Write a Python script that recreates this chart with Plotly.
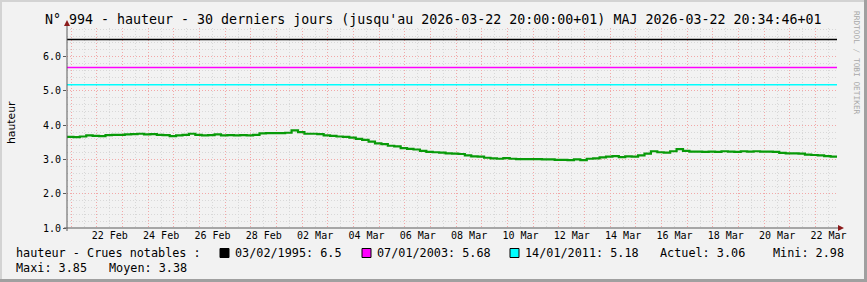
import plotly.graph_objects as go
import pandas as pd

# ---------------- data ----------------
START = "2026-02-20 20:00"
END = "2026-03-22 20:00"

# water height (m), one reading every 6 hours from START to END
hauteur = [
    3.66, 3.65, 3.67, 3.70, 3.69, 3.68, 3.71, 3.72, 3.72, 3.73,
    3.74, 3.75, 3.73, 3.74, 3.72, 3.71, 3.68, 3.70, 3.72, 3.75,
    3.72, 3.70, 3.71, 3.73, 3.70, 3.71, 3.70, 3.71, 3.70, 3.72,
    3.76, 3.77, 3.77, 3.77, 3.78, 3.85, 3.80, 3.75, 3.75, 3.74,
    3.70, 3.69, 3.67, 3.66, 3.64, 3.60, 3.57, 3.52, 3.47, 3.45,
    3.40, 3.38, 3.33, 3.31, 3.29, 3.25, 3.22, 3.21, 3.20, 3.18,
    3.17, 3.16, 3.12, 3.09, 3.08, 3.05, 3.03, 3.02, 3.04, 3.02,
    3.01, 3.01, 3.01, 3.01, 3.00, 3.00, 2.99, 2.99, 2.98, 3.00,
    2.98, 3.02, 3.03, 3.06, 3.08, 3.10, 3.07, 3.09, 3.08, 3.12,
    3.17, 3.24, 3.21, 3.20, 3.24, 3.30, 3.25, 3.23, 3.23, 3.22,
    3.23, 3.22, 3.24, 3.23, 3.22, 3.24, 3.23, 3.24, 3.23, 3.23,
    3.22, 3.19, 3.18, 3.18, 3.17, 3.14, 3.13, 3.12, 3.10, 3.08,
    3.06,
]
times = pd.date_range(START, END, freq="6h")

crue_dates = ["03/02/1995", "07/01/2003", "14/01/2011"]
crue_values = [6.5, 5.68, 5.18]
crue_colors = ["#000000", "#FF00FF", "#00FFFF"]

actuel, mini, maxi, moyen = 3.06, 2.98, 3.85, 3.38

y_ticks = [1, 2, 3, 4, 5, 6]
y_ticktext = [f"{v:.1f}" for v in y_ticks]
x_label_times = pd.date_range("2026-02-22 12:00", "2026-03-22 12:00", freq="2D")

title = ("N° 994 - hauteur - 30 derniers jours (jusqu'au 2026-03-22 20:00:00+01) "
         "MAJ 2026-03-22 20:34:46+01")

# ---------------- layout geometry ----------------
W, H = 867, 282
L, R, T, B = 67, 30, 28, 54
PW, PH = W - L - R, H - T - B
Y0, Y1 = 1.0, 6.836


def px(x):
    return (x - L) / PW


def py(y):
    return (H - B - y) / PH


MONO = "DejaVu Sans Mono"
GRID = "#D8D8D8"
MGRID = "#F2A8A8"
AXIS = "#5A5A5A"
ARROW = "#8B1A1A"

fig = go.Figure()

# thresholds
for d, v, c in zip(crue_dates, crue_values, crue_colors):
    fig.add_trace(go.Scatter(x=[times[0], times[-1]], y=[v, v], mode="lines",
                             line=dict(color=c, width=1.5), showlegend=False,
                             hoverinfo="skip"))

fig.add_trace(go.Scatter(x=times, y=hauteur, mode="lines", line_shape="hv",
                         line=dict(color="#089A08", width=2.2), showlegend=False))

# labels axis (noon of even days)
fig.add_trace(go.Scatter(x=[times[0], times[-1]], y=[Y0, Y0], xaxis="x2",
                         mode="lines", line=dict(width=0), opacity=0,
                         showlegend=False, hoverinfo="skip"))

shapes = []
# outer frame
shapes.append(dict(type="rect", xref="paper", yref="paper", x0=px(0), x1=px(W),
                   y0=py(H), y1=py(0), line=dict(width=0), fillcolor="#F2F2F2",
                   layer="below"))
shapes.append(dict(type="rect", xref="paper", yref="paper", x0=px(0), x1=px(W),
                   y0=py(2), y1=py(0), line=dict(width=0), fillcolor="#D3D3D3",
                   layer="below"))
shapes.append(dict(type="rect", xref="paper", yref="paper", x0=px(0), x1=px(2),
                   y0=py(H), y1=py(0), line=dict(width=0), fillcolor="#D3D3D3",
                   layer="below"))
shapes.append(dict(type="rect", xref="paper", yref="paper", x0=px(W - 3), x1=px(W),
                   y0=py(H), y1=py(0), line=dict(width=0), fillcolor="#A0A0A0",
                   layer="below"))
shapes.append(dict(type="rect", xref="paper", yref="paper", x0=px(0), x1=px(W),
                   y0=py(H), y1=py(H - 3), line=dict(width=0), fillcolor="#A0A0A0",
                   layer="below"))
# axis lines + arrows
shapes.append(dict(type="line", xref="paper", yref="paper", x0=px(67), x1=px(67),
                   y0=py(231), y1=py(24), line=dict(color=AXIS, width=1)))
shapes.append(dict(type="line", xref="paper", yref="paper", x0=px(64), x1=px(840),
                   y0=py(228), y1=py(228), line=dict(color=AXIS, width=1)))
shapes.append(dict(type="path", xref="paper", yref="paper",
                   path=f"M {px(64)},{py(26)} L {px(70)},{py(26)} L {px(67)},{py(20)} Z",
                   fillcolor=ARROW, line=dict(color=ARROW, width=0)))
shapes.append(dict(type="path", xref="paper", yref="paper",
                   path=f"M {px(838)},{py(225)} L {px(838)},{py(231)} L {px(844)},{py(228)} Z",
                   fillcolor=ARROW, line=dict(color=ARROW, width=0)))

annotations = []
annotations.append(dict(text=title, x=px(W / 2), y=py(19), xref="paper", yref="paper",
                        showarrow=False, xanchor="center", yanchor="middle",
                        font=dict(family=MONO, size=13.3, color="#000")))
annotations.append(dict(text="hauteur", x=px(11), y=py(123), xref="paper", yref="paper",
                        showarrow=False, textangle=-90, xanchor="center", yanchor="middle",
                        font=dict(family="DejaVu Sans", size=10.8, color="#000")))
annotations.append(dict(text="RRDTOOL / TOBI OETIKER", x=px(857), y=py(63), xref="paper",
                        yref="paper", showarrow=False, textangle=90, xanchor="center",
                        yanchor="middle", font=dict(family=MONO, size=7.8, color="#A8A8A8")))

LEG = dict(family=MONO, size=11.8, color="#000")
row1, row2 = 253, 268


def leg_text(t, x, y):
    annotations.append(dict(text=t, x=px(x), y=py(y), xref="paper", yref="paper",
                            showarrow=False, xanchor="left", yanchor="middle",
                            font=LEG, borderpad=0))


leg_text("hauteur - Crues notables :", 15, row1)
sq_x = [220, 362, 510]
for d, v, c, sx in zip(crue_dates, crue_values, crue_colors, sq_x):
    shapes.append(dict(type="rect", xref="paper", yref="paper", x0=px(sx), x1=px(sx + 9),
                       y0=py(row1 + 4.5), y1=py(row1 - 4.5), fillcolor=c,
                       line=dict(color="#000", width=1)))
    leg_text(f"{d}: {v:g}", sx + 14, row1)
leg_text(f"Actuel: {actuel:.2f}", 659, row1)
leg_text(f"Mini: {mini:.2f}", 772, row1)
leg_text(f"Maxi: {maxi:.2f}", 15, row2)
leg_text(f"Moyen: {moyen:.2f}", 108, row2)

fig.update_layout(
    width=W, height=H,
    margin=dict(l=L, r=R, t=T, b=B, pad=0),
    paper_bgcolor="#F2F2F2",
    plot_bgcolor="#FFFFFF",
    showlegend=False,
    shapes=shapes,
    annotations=annotations,
    xaxis=dict(type="date", range=[times[0], times[-1]],
               tick0="2026-02-21 00:00", dtick=86400000,
               showticklabels=False, ticks="",
               showgrid=True, gridcolor=MGRID, griddash="1px,2px", gridwidth=1,
               minor=dict(dtick=43200000, tick0="2026-02-21 00:00", showgrid=True,
                          gridcolor=GRID, griddash="1px,2px", gridwidth=1),
               showline=False, zeroline=False, fixedrange=True),
    xaxis2=dict(type="date", range=[times[0], times[-1]], overlaying="x",
                anchor="y", side="bottom",
                tickmode="array", tickvals=list(x_label_times),
                ticktext=[t.strftime("%d %b") for t in x_label_times],
                ticks="", showgrid=False, showline=False, zeroline=False,
                tickfont=dict(family=MONO, size=10, color="#000")),
    yaxis=dict(range=[Y0, Y1], tickmode="array", tickvals=y_ticks, ticktext=y_ticktext,
               ticks="outside", ticklen=3, tickcolor=AXIS,
               tickfont=dict(family=MONO, size=10, color="#000"),
               showgrid=True, gridcolor=MGRID, griddash="1px,2px", gridwidth=1,
               minor=dict(dtick=0.2, tick0=1, showgrid=True, gridcolor=GRID,
                          griddash="1px,2px", gridwidth=1),
               showline=False, zeroline=False),
)

fig.write_html("out.html")
